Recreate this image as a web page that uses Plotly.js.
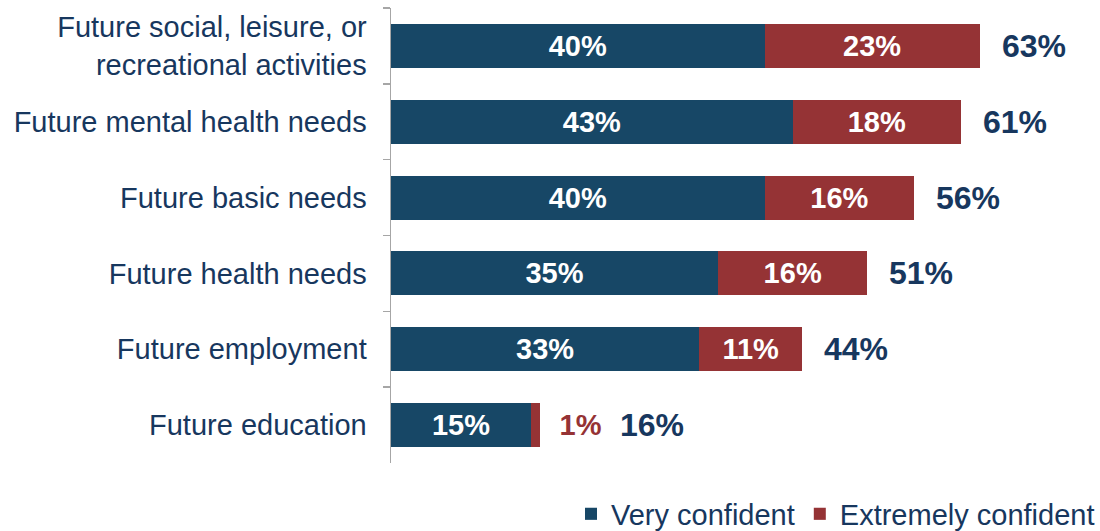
<!DOCTYPE html>
<html>
<head>
<meta charset="utf-8">
<script src="https://cdn.plot.ly/plotly-3.0.1.min.js"></script>
<style>html,body{margin:0;padding:0;background:#fff;}#chart{width:1100px;height:531px;}</style>
</head>
<body>
<div id="chart"></div>
<script>
// Data (top to bottom as shown)
const categories = [
  "Future social, leisure, or<br>recreational activities",
  "Future mental health needs",
  "Future basic needs",
  "Future health needs",
  "Future employment",
  "Future education"
];
const veryConfident = [40, 43, 40, 35, 33, 15];
const extremelyConfident = [23, 18, 16, 16, 11, 1];
const totals = [63, 61, 56, 51, 44, 16];
const seriesNames = ["Very confident", "Extremely confident"];

const NAVY = "#174766";
const RED = "#953335";
const TXT = "#17375e";
const FONT = "Liberation Sans, Arial, sans-serif";

const isSmall = extremelyConfident.map(v => v < 3);
const redPos = isSmall.map(s => s ? "outside" : "inside");
const redText = extremelyConfident.map((v, i) => (isSmall[i] ? "\u00a0\u00a0" : "") + v + "%");

const traces = [
  {
    type: "bar", orientation: "h", name: seriesNames[0],
    y: categories, x: veryConfident,
    marker: {color: NAVY},
    text: veryConfident.map(v => v + "%"),
    textposition: "inside", insidetextanchor: "middle",
    insidetextfont: {color: "#ffffff", size: 29, family: FONT, weight: "bold"},
    constraintext: "none", hoverinfo: "none"
  },
  {
    type: "bar", orientation: "h", name: seriesNames[1],
    y: categories, x: extremelyConfident,
    marker: {color: RED},
    text: redText,
    textposition: redPos, insidetextanchor: "middle",
    insidetextfont: {color: "#ffffff", size: 29, family: FONT, weight: "bold"},
    outsidetextfont: {color: RED, size: 29, family: FONT, weight: "bold"},
    constraintext: "none", cliponaxis: false, hoverinfo: "none"
  }
];

const annotations = totals.map((t, i) => ({
  x: t, y: categories[i], xref: "x", yref: "y",
  text: "<b>" + t + "%</b>", showarrow: false,
  xanchor: "left", yanchor: "middle",
  xshift: isSmall[i] ? 78 : 20,
  font: {size: 32, color: TXT, family: FONT}
}));

const layout = {
  width: 1100, height: 531,
  margin: {l: 391, r: 55, t: 8, b: 68},
  paper_bgcolor: "#ffffff", plot_bgcolor: "#ffffff",
  barmode: "stack", bargap: 0.42,
  font: {family: FONT, color: TXT},
  showlegend: true,
  legend: {
    orientation: "h", xref: "container", yref: "container",
    x: 1, xanchor: "right", y: 0.032, yanchor: "middle",
    font: {size: 29, color: TXT, family: FONT},
    traceorder: "normal", itemwidth: 30
  },
  xaxis: {
    range: [0, 70], visible: false, fixedrange: true
  },
  yaxis: {
    type: "category", autorange: "reversed",
    showline: true, linecolor: "#a6a6a6", linewidth: 1.5,
    ticks: "outside", tickson: "boundaries", ticklen: 7, tickcolor: "#a6a6a6", tickwidth: 1.5,
    tickfont: {size: 29, color: TXT, family: FONT},
    ticklabelstandoff: 17,
    showgrid: false, zeroline: false
  },
  annotations: annotations
};

Plotly.newPlot("chart", traces, layout, {displayModeBar: false, staticPlot: true});
</script>
</body>
</html>
